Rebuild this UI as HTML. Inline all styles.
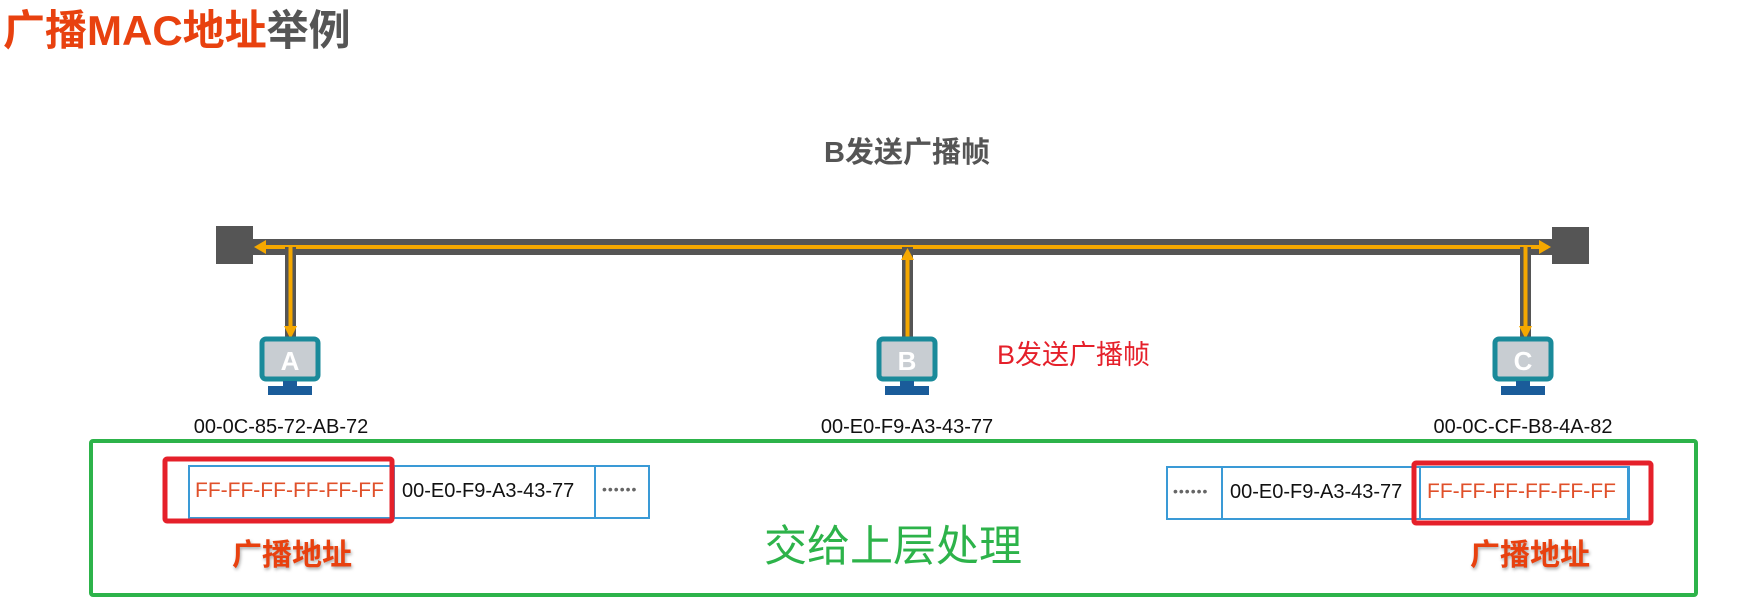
<!DOCTYPE html>
<html><head><meta charset="utf-8"><style>
body{margin:0;width:1756px;height:615px;background:#fff;position:relative;overflow:hidden;font-family:"Liberation Sans","Noto Sans CJK SC",sans-serif}
.t{position:absolute;white-space:nowrap;line-height:1}
</style></head><body>
<svg width="1756" height="615" style="position:absolute;left:0;top:0">
<rect x="216" y="226" width="37" height="38" fill="#555"/>
<rect x="1552" y="227" width="37" height="37" fill="#555"/>
<rect x="253" y="239" width="1299" height="16" fill="#555"/>
<line x1="1548" y1="247" x2="262" y2="247" stroke="#f5a800" stroke-width="4"/>
<path d="M254,247 L266,240 L266,254 z" fill="#f5a800"/>
<path d="M1551,247 L1539,240 L1539,254 z" fill="#f5a800"/>
<rect x="285" y="247" width="11" height="90" fill="#555"/>
<line x1="290.5" y1="247" x2="290.5" y2="328" stroke="#f5a800" stroke-width="4"/>
<path d="M290.5,339 L284,326 L297,326 z" fill="#f5a800"/>
<rect x="902" y="247" width="11" height="90" fill="#555"/>
<line x1="907.5" y1="256" x2="907.5" y2="337" stroke="#f5a800" stroke-width="4"/>
<path d="M907.5,248 L901,260 L914,260 z" fill="#f5a800"/>
<rect x="1520" y="247" width="11" height="90" fill="#555"/>
<line x1="1525.5" y1="247" x2="1525.5" y2="328" stroke="#f5a800" stroke-width="4"/>
<path d="M1525.5,339 L1519,326 L1532,326 z" fill="#f5a800"/>
<g><rect x="262" y="339" width="56" height="40" rx="4" fill="#c8cdd2" stroke="#1a8a9a" stroke-width="5"/><rect x="283" y="381" width="14" height="5" fill="#1a5c9a"/><rect x="268" y="386" width="44" height="9" fill="#1a5c9a"/></g>
<g transform="translate(617,0)"><rect x="262" y="339" width="56" height="40" rx="4" fill="#c8cdd2" stroke="#1a8a9a" stroke-width="5"/><rect x="283" y="381" width="14" height="5" fill="#1a5c9a"/><rect x="268" y="386" width="44" height="9" fill="#1a5c9a"/></g>
<g transform="translate(1233,0)"><rect x="262" y="339" width="56" height="40" rx="4" fill="#c8cdd2" stroke="#1a8a9a" stroke-width="5"/><rect x="283" y="381" width="14" height="5" fill="#1a5c9a"/><rect x="268" y="386" width="44" height="9" fill="#1a5c9a"/></g>
<text x="290" y="370" font-family="Liberation Sans" font-weight="bold" font-size="26" fill="#fff" text-anchor="middle">A</text>
<text x="907" y="370" font-family="Liberation Sans" font-weight="bold" font-size="26" fill="#fff" text-anchor="middle">B</text>
<text x="1523" y="370" font-family="Liberation Sans" font-weight="bold" font-size="26" fill="#fff" text-anchor="middle">C</text>
<rect x="91" y="441" width="1605" height="154" fill="none" stroke="#2db34a" stroke-width="4" rx="2"/>
<rect x="189" y="466" width="460" height="52" fill="none" stroke="#3a9ad6" stroke-width="2"/>
<line x1="394" y1="466" x2="394" y2="518" stroke="#3a9ad6" stroke-width="2"/>
<line x1="595" y1="466" x2="595" y2="518" stroke="#3a9ad6" stroke-width="2"/>
<rect x="165" y="459" width="227" height="62" fill="none" stroke="#e5202a" stroke-width="5" rx="2"/>
<rect x="1167" y="467" width="462" height="52" fill="none" stroke="#3a9ad6" stroke-width="2"/>
<line x1="1222" y1="467" x2="1222" y2="519" stroke="#3a9ad6" stroke-width="2"/>
<line x1="1420" y1="467" x2="1420" y2="519" stroke="#3a9ad6" stroke-width="2"/>
<line x1="1628" y1="467" x2="1628" y2="519" stroke="#3a9ad6" stroke-width="2"/>
<rect x="1414" y="463" width="237" height="60" fill="none" stroke="#e5202a" stroke-width="5" rx="2"/>
</svg>
<div class="t" style="left:3px;top:10px;font-size:42px;font-weight:bold;color:#e8410f">广播MAC地址<span style="color:#555">举例</span></div>
<div class="t" style="left:907px;top:139px;transform:translateX(-50%);font-size:29px;font-weight:bold;color:#555">B发送广播帧</div>
<div class="t" style="left:997px;top:342px;font-size:27px;color:#e5202a">B发送广播帧</div>
<div class="t" style="left:281px;top:417px;transform:translateX(-50%);font-size:20px;color:#111">00-0C-85-72-AB-72</div>
<div class="t" style="left:907px;top:417px;transform:translateX(-50%);font-size:20px;color:#111">00-E0-F9-A3-43-77</div>
<div class="t" style="left:1523px;top:417px;transform:translateX(-50%);font-size:20px;color:#111">00-0C-CF-B8-4A-82</div>
<div class="t" style="left:195px;top:480px;font-size:21px;color:#e0502a">FF-FF-FF-FF-FF-FF</div>
<div class="t" style="left:402px;top:481px;font-size:20px;color:#111">00-E0-F9-A3-43-77</div>
<div class="t" style="left:602px;top:482px;font-size:14px;color:#666;letter-spacing:1px">••••••</div>
<div class="t" style="left:1173px;top:484px;font-size:14px;color:#666;letter-spacing:1px">••••••</div>
<div class="t" style="left:1230px;top:482px;font-size:20px;color:#111">00-E0-F9-A3-43-77</div>
<div class="t" style="left:1427px;top:481px;font-size:21px;color:#e0502a">FF-FF-FF-FF-FF-FF</div>
<div class="t" style="left:292px;top:541px;transform:translateX(-50%);font-size:30px;font-weight:bold;color:#e8410f;text-shadow:1px 2px 3px #aaa">广播地址</div>
<div class="t" style="left:1530px;top:541px;transform:translateX(-50%);font-size:30px;font-weight:bold;color:#e8410f;text-shadow:1px 2px 3px #aaa">广播地址</div>
<div class="t" style="left:764px;top:526px;font-size:43px;color:#2db34a">交给上层处理</div>
</body></html>
